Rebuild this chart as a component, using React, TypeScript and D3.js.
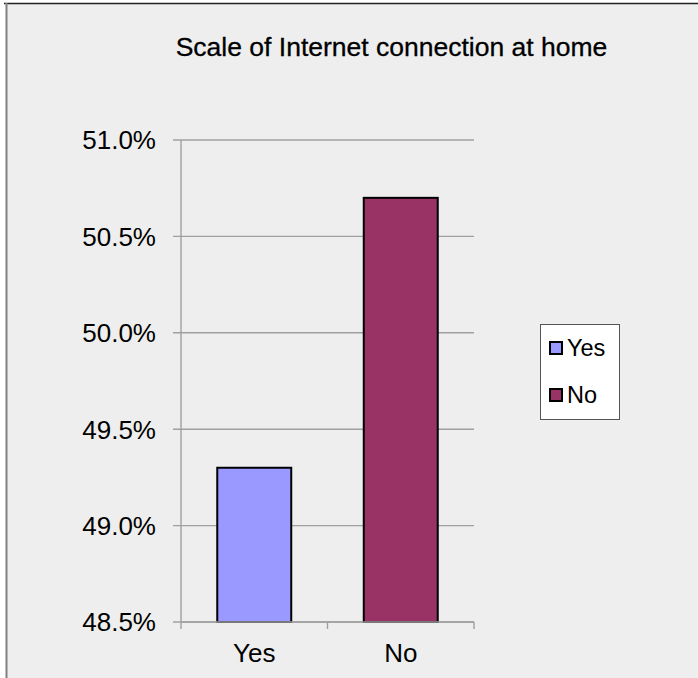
import React from "react";
import * as d3 from "d3";

const categories = ["Yes", "No"];
const values = [49.3, 50.7];
const colors = ["#9999ff", "#993366"];
const yTicks = [48.5, 49.0, 49.5, 50.0, 50.5, 51.0];
const title = "Scale of Internet connection at home";

const W = 698;
const H = 678;
const plot = { left: 181, right: 474, top: 140, bottom: 622 };
const FONT = "'Liberation Sans', Arial, sans-serif";

export default function App() {
  const y = d3.scaleLinear().domain([48.5, 51.0]).range([plot.bottom, plot.top]);
  const x = d3
    .scaleBand<string>()
    .domain(categories)
    .range([plot.left, plot.right])
    .paddingInner(0.495)
    .paddingOuter(0.2475);
  const xEdges = d3.range(categories.length + 1).map(
    (i) => plot.left + (i * (plot.right - plot.left)) / categories.length
  );
  const fmt = (v: number) => v.toFixed(1) + "%";

  return (
    <svg
      width={W}
      height={H}
      style={{ position: "absolute", left: 0, top: 0, display: "block" }}
    >
      <rect x={0} y={0} width={W} height={H} fill="#ffffff" />
      <rect x={6} y={3} width={W + 10} height={H + 10} fill="#eeeeee" />
      <line x1={4} y1={3.5} x2={W} y2={3.5} stroke="#222" strokeWidth={1.5} />
      <line x1={6.5} y1={3} x2={6.5} y2={H} stroke="#808080" strokeWidth={2} />

      <text
        x={391.5}
        y={55.5}
        textAnchor="middle"
        fontFamily={FONT}
        fontSize={26.5}
        fill="#000"
        stroke="#000"
        strokeWidth={0.3}
      >
        {title}
      </text>

      {yTicks.map((t) => (
        <g key={t}>
          <line
            x1={plot.left - 8}
            x2={plot.right}
            y1={y(t)}
            y2={y(t)}
            stroke="#a0a0a0"
            strokeWidth={1.4}
          />
          <text
            x={156}
            y={y(t)}
            dy="0.36em"
            textAnchor="end"
            fontFamily={FONT}
            fontSize={26}
            fill="#000"
          >
            {fmt(t)}
          </text>
        </g>
      ))}

      <line
        x1={plot.left}
        x2={plot.left}
        y1={plot.top}
        y2={plot.bottom}
        stroke="#a0a0a0"
        strokeWidth={1.4}
      />

      {categories.map((c, i) => (
        <rect
          key={c}
          x={x(c)}
          y={y(values[i])}
          width={x.bandwidth()}
          height={plot.bottom - y(values[i])}
          fill={colors[i]}
          stroke="#000"
          strokeWidth={2}
        />
      ))}

      <line
        x1={plot.left}
        x2={plot.right}
        y1={plot.bottom}
        y2={plot.bottom}
        stroke="#a0a0a0"
        strokeWidth={1.4}
      />
      {xEdges.map((xe, i) => (
        <line
          key={i}
          x1={xe}
          x2={xe}
          y1={plot.bottom}
          y2={plot.bottom + 7}
          stroke="#a0a0a0"
          strokeWidth={1.4}
        />
      ))}

      {categories.map((c) => (
        <text
          key={c}
          x={(x(c) as number) + x.bandwidth() / 2}
          y={662}
          textAnchor="middle"
          fontFamily={FONT}
          fontSize={26}
          fill="#000"
        >
          {c}
        </text>
      ))}

      <g>
        <rect x={540.5} y={324.5} width={79} height={95} fill="#ffffff" stroke="#555" strokeWidth={1} />
        {categories.map((c, i) => (
          <g key={c}>
            <rect
              x={550}
              y={342 + i * 47}
              width={12}
              height={12}
              fill={colors[i]}
              stroke="#000"
              strokeWidth={2}
            />
            <text
              x={567}
              y={356 + i * 47}
              fontFamily={FONT}
              fontSize={23.5}
              fill="#000"
            >
              {c}
            </text>
          </g>
        ))}
      </g>
    </svg>
  );
}
